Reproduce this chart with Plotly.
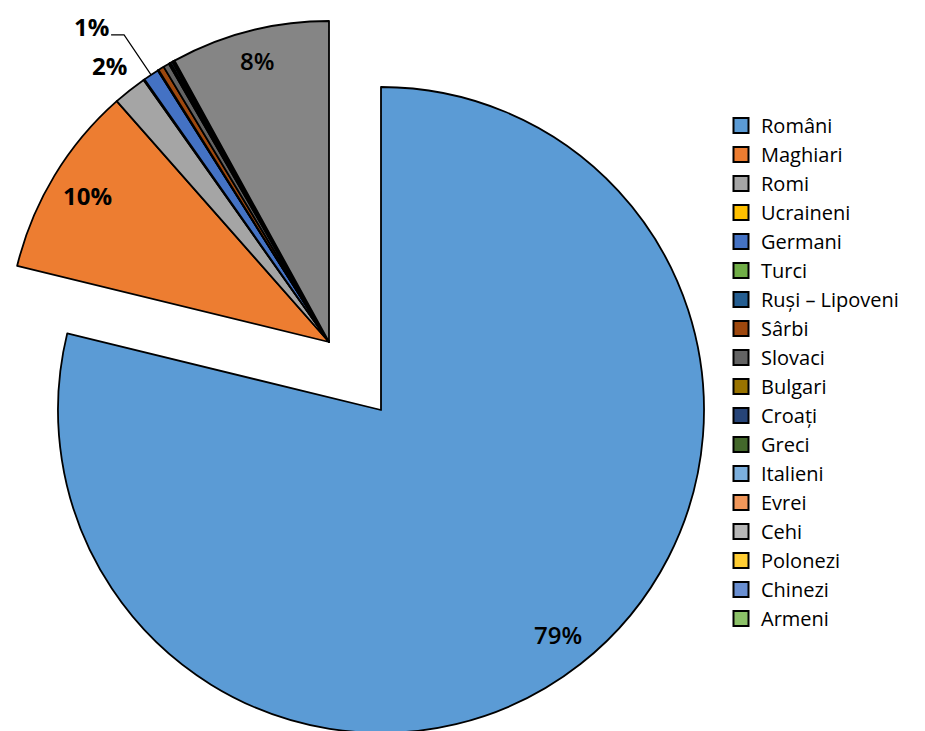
import math
import plotly.graph_objects as go

# ---- data ----
labels = ["Români", "Maghiari", "Romi", "Ucraineni", "Germani", "Turci",
          "Ruși – Lipoveni", "Sârbi", "Slovaci", "Bulgari", "Croați", "Greci",
          "Italieni", "Evrei", "Cehi", "Polonezi", "Chinezi", "Armeni"]
values = [78.9, 9.7, 1.7, 0.05, 0.8, 0.02,
          0.02, 0.3, 0.3, 0.05, 0.03, 0.02,
          0.1, 0.02, 0.05, 0.02, 0.02, 0.01]
colors = ["#5B9BD5", "#ED7D31", "#A5A5A5", "#FFC000", "#4472C4", "#70AD47",
          "#255E91", "#9E480E", "#636363", "#997300", "#264478", "#43682B",
          "#7CAFDD", "#F1975A", "#B7B7B7", "#FFCD33", "#698ED0", "#8CC168"]
other_label = "Informație nedisponibilă"
other_value = 8.0
other_color = "#858585"

# ---- geometry (pixels, figure coordinates; page body adds an 8px margin) ----
W, H = 925, 731
OFF = 8
cA, rA = (381 - OFF, 410 - OFF), 323     # exploded Români slice
cB, rB = (321, 334), 321                 # remaining slices
FONT = "Open Sans"

all_labels = labels + [other_label]
all_values = values + [other_value]
all_colors = colors + [other_color]
total = sum(all_values)
TRANSP = "rgba(0,0,0,0)"

def dom(c, r):
    return dict(x=[max(0.0, (c[0] - r) / W), min(1.0, (c[0] + r) / W)],
                y=[max(0.0, 1 - (c[1] + r) / H), min(1.0, 1 - (c[1] - r) / H)])

fig = go.Figure()

# trace A: only Români visible
fig.add_trace(go.Pie(
    labels=["Români", "_rest"], values=[values[0], total - values[0]],
    marker=dict(colors=[colors[0], TRANSP], line=dict(color="black", width=[1.8, 0])),
    sort=False, direction="clockwise", rotation=0, textinfo="none",
    hoverinfo="label+percent", showlegend=False, domain=dom(cA, rA)))

# trace B: all others
b_labels = ["_Români"] + all_labels[1:]
b_colors = [TRANSP] + all_colors[1:]
b_lw = [0] + [1.8] * (len(all_labels) - 1)
fig.add_trace(go.Pie(
    labels=b_labels, values=all_values,
    marker=dict(colors=b_colors, line=dict(color="black", width=b_lw)),
    sort=False, direction="clockwise", rotation=0, textinfo="none",
    hoverinfo="label+percent", showlegend=False, domain=dom(cB, rB)))

# legend entries
for lab, col in zip(labels, colors):
    fig.add_trace(go.Scatter(
        x=[None], y=[None], mode="markers", name=lab,
        marker=dict(symbol="square", size=15, color=col,
                    line=dict(color="black", width=2))))

# ---- percent labels computed from the data ----
def point(c, r, frac):
    ang = 2 * math.pi * frac
    return c[0] + r * math.sin(ang), c[1] - r * math.cos(ang)

radial = {"Români": 0.885, "Maghiari": 0.88, "Romi": 1.1, other_label: 0.905}
weights = {"Români": 600, other_label: 600}
annotations = []
shapes = []
cum = 0.0
for lab, v in zip(all_labels, all_values):
    f0 = cum / total
    cum += v
    f1 = cum / total
    pct = round(v / total * 100)
    if pct < 1:
        continue
    mid = (f0 + f1) / 2
    txt = f"{pct}%"
    fnt = dict(family=FONT, size=24, color="black", weight=weights.get(lab, 700))
    if lab == "Germani":
        tx, ty = point(cB, rB, mid)
        cx, cy = tx - 60, ty - 48
        annotations.append(dict(x=cx / W, y=1 - cy / H, xref="paper", yref="paper",
                                xanchor="center", yanchor="middle",
                                text=txt, showarrow=False, font=fnt))
        shapes.append(dict(type="path", xref="paper", yref="paper",
                           path=f"M{(tx-40)/W},{1-(ty-40)/H} L{(tx-27)/W},{1-(ty-40)/H} L{tx/W},{1-ty/H}",
                           line=dict(color="black", width=1.2)))
        continue
    c, r = (cA, rA) if lab == "Români" else (cB, rB)
    px, py = point(c, r * radial.get(lab, 0.88), mid)
    annotations.append(dict(x=px / W, y=1 - py / H, xref="paper", yref="paper",
                            xanchor="center", yanchor="middle",
                            text=txt, showarrow=False, font=fnt))

fig.update_layout(
    width=W, height=H,
    margin=dict(l=0, r=0, t=0, b=0, autoexpand=False),
    paper_bgcolor="white", plot_bgcolor="rgba(0,0,0,0)",
    xaxis=dict(visible=False), yaxis=dict(visible=False),
    showlegend=True,
    legend=dict(x=(721 - OFF) / W, xanchor="left", y=1 - (372 - OFF) / H, yanchor="middle",
                font=dict(family=FONT, size=20, color="black"),
                bgcolor="rgba(0,0,0,0)", borderwidth=0),
    annotations=annotations, shapes=shapes,
    font=dict(family=FONT),
)

fig.write_html("out.html")
